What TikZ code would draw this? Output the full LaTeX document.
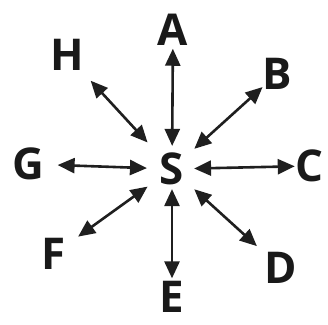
\documentclass[tikz,border=0pt]{standalone}
\usepackage{fontspec}
\setmainfont{Open Sans}
\usetikzlibrary{arrows.meta}
\begin{document}
\begin{tikzpicture}[x=1bp,y=-1bp,
  lbl/.style={circle,inner sep=0pt,outer sep=0pt,font=\fontsize{44}{44}\selectfont\bfseries,text=black!90},
  arr/.style={line width=2.6bp,draw=black!88,{Triangle[length=17bp,width=15bp]}-{Triangle[length=17bp,width=15bp]}}]
\useasboundingbox (0,0) rectangle (328,325);
\node[lbl] (S) at (172,169) {S};
\node[lbl] (A) at (173,30) {A};
\node[lbl] (B) at (277,74) {B};
\node[lbl] (C) at (309,166) {C};
\node[lbl] (D) at (281,268) {D};
\node[lbl,rectangle] (E) at (172,297) {E};
\node[lbl] (F) at (54,254) {F};
\node[lbl] (G) at (28,164) {G};
\node[lbl] (H) at (67,55) {H};
\draw[arr,shorten <=3bp,shorten >=-3bp] (S) -- (A);
\draw[arr,shorten <=10bp,shorten >=-2bp] (S) -- (B);
\draw[arr,shorten <=2bp,shorten >=-7bp] (S) -- (C);
\draw[arr,shorten <=10bp,shorten >=10bp] (S) -- (D);
\draw[arr,shorten <=0bp,shorten >=3bp] (S) -- (E);
\draw[arr,shorten <=10bp,shorten >=10bp] (S) -- (F);
\draw[arr,shorten <=5bp,shorten >=7bp] (S) -- (G);
\draw[arr,shorten <=16bp,shorten >=12bp] (S) -- (H);
\end{tikzpicture}
\end{document}
